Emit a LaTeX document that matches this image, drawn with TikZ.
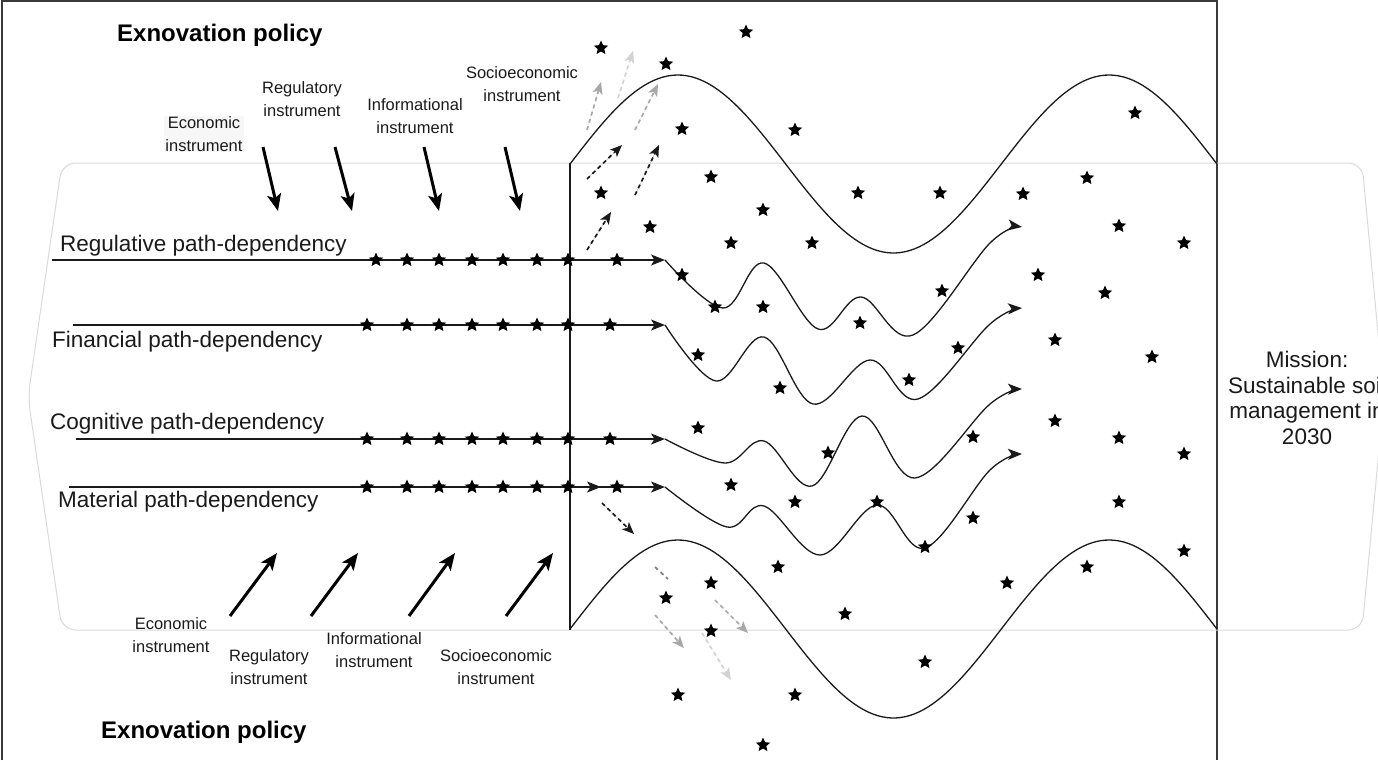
\documentclass[tikz,border=0pt]{standalone}
\usepackage{fontspec}
\setmainfont{Liberation Sans}
\usetikzlibrary{arrows.meta,shapes.geometric}
\definecolor{ink}{HTML}{1A1A1A}
\definecolor{pale}{HTML}{DADADA}
\definecolor{midgray}{HTML}{A8A8A8}
\definecolor{faintgray}{HTML}{D2D2D2}
\definecolor{darkdash}{HTML}{808080}
\definecolor{framegray}{HTML}{3A3A3A}
\definecolor{labelbg}{HTML}{F7F7F7}
\begin{document}
\begin{tikzpicture}[x=1pt,y=-1pt,
  pathlbl/.style={font=\fontsize{22.5}{26}\selectfont, text=ink, inner sep=0pt, anchor=west},
  instlbl/.style={font=\fontsize{16.5}{22.5}\selectfont, text=ink, align=center, inner sep=1pt},
  policy/.style={font=\fontsize{24}{28}\selectfont\bfseries, inner sep=0pt, anchor=west},
  starmark/.style={star, star points=5, star point ratio=2.15, fill=black, draw=none, inner sep=0pt, minimum size=15pt},
  flow/.style={draw=ink, line width=1.3pt, -{Stealth[length=14pt,width=11pt,inset=3.5pt]}},
  wave/.style={draw=ink, line width=1.3pt},
  push/.style={draw=black, line width=3pt, -{Stealth[length=17pt,width=14pt,inset=4pt]}},
  hint/.style={line width=1.7pt, dash pattern=on 4pt off 3.5pt, -{Stealth[length=12pt,width=10pt,inset=3pt]}},
]
\useasboundingbox (0,0) rectangle (1378,760);

% outer frame (open at the bottom)
\draw[framegray, line width=1.5pt] (2,760) -- (2,1) -- (1217,1);
\draw[framegray, line width=2.2pt] (1217,0) -- (1217,760);

% pale envelope of the transition space
\draw[pale, line width=1pt, rounded corners=14pt]
  (62,163) -- (1362,163) -- (1384,397) -- (1362,630) -- (62,630) -- (28,397) -- cycle;

% landscape boundaries (1.5 periods of a sine wave, 0.8347 deg per unit)
\draw[wave] (570,163) -- (570,630);
\draw[wave] plot[domain=570:1217, samples=140] (\x, {164-89*sin((\x-570)*0.8347)});
\draw[wave] plot[domain=570:1217, samples=140] (\x, {629-89*sin((\x-570)*0.8347)});

% titles
\node[policy] (poltop) at (117,35) {Exnovation policy};
\node[policy] (polbot) at (101,732) {Exnovation policy};

% mission
\node[font=\fontsize{22.5}{25.5}\selectfont, align=center, text=ink, inner sep=0pt] (mission) at (1307,398)
  {Mission:\\Sustainable soil\\management in\\2030};

% path-dependency rows
\node[pathlbl] (lreg) at (60,246) {Regulative path-dependency};
\node[pathlbl] (lfin) at (52,342) {Financial path-dependency};
\node[pathlbl] (lcog) at (50,424) {Cognitive path-dependency};
\node[pathlbl] (lmat) at (58,502) {Material path-dependency};

\coordinate (r1s) at (52,260);  \coordinate (r1t) at (665,260);
\coordinate (r2s) at (73,325);  \coordinate (r2t) at (665,325);
\coordinate (r3s) at (76,439);  \coordinate (r3t) at (665,439);
\coordinate (r4s) at (69,487);  \coordinate (r4t) at (665,487);
\coordinate (r4a) at (552,487); \coordinate (r4b) at (601,487);

\draw[flow] (r1s) -- (r1t);
\draw[flow] (r2s) -- (r2t);
\draw[flow] (r3s) -- (r3t);
\draw[flow] (r4s) -- (r4t);
\draw[flow] (r4a) -- (r4b);

% winding continuations
\draw[wave, -{Stealth[length=14pt,width=11pt,inset=3.5pt]}] plot[smooth, tension=0.6] coordinates
  {(r1t) (723,308) (764,263) (818,329) (861,297) (913,335) (990,243) (1022,227)};
\draw[wave, -{Stealth[length=14pt,width=11pt,inset=3.5pt]}] plot[smooth, tension=0.6] coordinates
  {(r2t) (716,381) (764,337) (813,404) (870,360) (918,399) (990,324) (1022,308)};
\draw[wave, -{Stealth[length=14pt,width=11pt,inset=3.5pt]}] plot[smooth, tension=0.6] coordinates
  {(r3t) (725,463) (764,441) (812,486) (862,416) (915,478) (990,404) (1022,389)};
\draw[wave, -{Stealth[length=14pt,width=11pt,inset=3.5pt]}] plot[smooth, tension=0.6] coordinates
  {(r4t) (727,527) (764,506) (820,555) (877,505) (925,548) (990,470) (1022,454)};

% stars on the rows
\foreach \x [count=\i] in {376,407,439,472,503,537,568,617} \node[starmark] (sa\i) at (\x,260) {};
\foreach \x [count=\i] in {367,407,439,472,503,537,568,610} \node[starmark] (sb\i) at (\x,325) {};
\foreach \x [count=\i] in {367,407,439,472,503,537,568,610} \node[starmark] (sc\i) at (\x,439) {};
\foreach \x [count=\i] in {367,407,439,472,503,537,568,617} \node[starmark] (sd\i) at (\x,487) {};

% scattered stars
\foreach \p [count=\i] in {
  {601,48},{746,32},{666,64},{682,129},{795,130},{1135,113},
  {711,177},{1087,178},{601,193},{858,193},{940,193},{1023,194},
  {763,210},{650,227},{1119,226},{731,243},{812,243},{1184,243},
  {682,275},{1038,275},{942,291},{1105,293},
  {715,307},{763,307},{860,323},{1055,340},{958,348},{698,355},{1152,357},
  {909,380},{780,388},{1055,421},{698,428},{973,437},{1119,438},{828,453},{1184,454},
  {731,485},{795,502},{877,502},{1119,502},{973,518},{925,547},{1184,551},
  {778,567},{1087,567},{711,583},{1007,583},{666,598},{845,614},{711,631},
  {925,662},{678,695},{795,695},{763,745}}
  \node[starmark] (st\i) at (\p) {};

% instruments acting from above
\node[instlbl, fill=labelbg] (ieco) at (204,134) {Economic\\instrument};
\node[instlbl] (ireg) at (302,99) {Regulatory\\instrument};
\node[instlbl] (iinf) at (415,116) {Informational\\instrument};
\node[instlbl] (isoc) at (522,84) {Socioeconomic\\instrument};

\coordinate (ta1) at (263,147); \coordinate (tb1) at (278,211);
\coordinate (ta2) at (335,147); \coordinate (tb2) at (352,211);
\coordinate (ta3) at (424,147); \coordinate (tb3) at (439,211);
\coordinate (ta4) at (505,147); \coordinate (tb4) at (520,211);
\foreach \i in {1,...,4} \draw[push] (ta\i) -- (tb\i);

% instruments acting from below
\node[instlbl] (beco) at (171,635) {Economic\\instrument};
\node[instlbl] (breg) at (269,667) {Regulatory\\instrument};
\node[instlbl] (binf) at (374,650) {Informational\\instrument};
\node[instlbl] (bsoc) at (496,667) {Socioeconomic\\instrument};

\coordinate (ba1) at (230,616); \coordinate (bb1) at (277,553);
\coordinate (ba2) at (311,616); \coordinate (bb2) at (358,553);
\coordinate (ba3) at (409,616); \coordinate (bb3) at (455,553);
\coordinate (ba4) at (506,616); \coordinate (bb4) at (553,553);
\foreach \i in {1,...,4} \draw[push] (ba\i) -- (bb\i);

% escaping dashed movements, upper side
\coordinate (ua1) at (587,179); \coordinate (ub1) at (622,145);
\coordinate (ua2) at (635,195); \coordinate (ub2) at (659,145);
\coordinate (ua3) at (587,250); \coordinate (ub3) at (611,212);
\coordinate (ua4) at (587,130); \coordinate (ub4) at (601,82);
\coordinate (ua5) at (635,130); \coordinate (ub5) at (658,84);
\coordinate (ua6) at (618,98);  \coordinate (ub6) at (633,51);
\draw[hint, draw=ink, fill=ink] (ua1) -- (ub1);
\draw[hint, draw=ink, fill=ink] (ua2) -- (ub2);
\draw[hint, draw=ink, fill=ink] (ua3) -- (ub3);
\draw[hint, draw=midgray, fill=midgray] (ua4) -- (ub4);
\draw[hint, draw=midgray, fill=midgray] (ua5) -- (ub5);
\draw[hint, draw=faintgray, fill=faintgray] (ua6) -- (ub6);

% escaping dashed movements, lower side
\coordinate (la1) at (602,503); \coordinate (lb1) at (634,534);
\coordinate (la2) at (655,567); \coordinate (lb2) at (668,579);
\coordinate (la3) at (655,615); \coordinate (lb3) at (684,648);
\coordinate (la4) at (715,600); \coordinate (lb4) at (748,633);
\coordinate (la5) at (702,633); \coordinate (lb5) at (731,680);
\draw[hint, draw=ink, fill=ink] (la1) -- (lb1);
\draw[line width=1.7pt, dash pattern=on 4pt off 3.5pt, draw=darkdash] (la2) -- (lb2);
\draw[hint, draw=midgray, fill=midgray] (la3) -- (lb3);
\draw[hint, draw=midgray, fill=midgray] (la4) -- (lb4);
\draw[hint, draw=faintgray, fill=faintgray] (la5) -- (lb5);
\end{tikzpicture}
\end{document}
